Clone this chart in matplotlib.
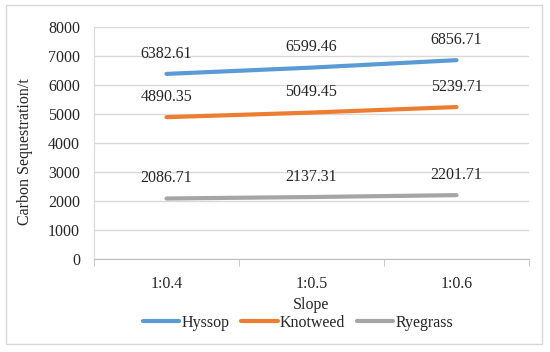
import matplotlib
matplotlib.use("Agg")
import matplotlib.pyplot as plt
from matplotlib.patches import Rectangle

plt.rcParams["font.family"] = ["Liberation Serif", "DejaVu Serif"]

slopes = ["1:0.4", "1:0.5", "1:0.6"]
series_names = ["Hyssop", "Knotweed", "Ryegrass"]
hyssop = [6382.61, 6599.46, 6856.71]
knotweed = [4890.35, 5049.45, 5239.71]
ryegrass = [2086.71, 2137.31, 2201.71]
colors = ["#5B9BD5", "#ED7D31", "#A5A5A5"]

W, H = 550, 352
FS = 11.5
fig = plt.figure(figsize=(W / 100, H / 100), dpi=100)
ax = fig.add_axes([94 / W, 1 - 259 / H, (529 - 94) / W, (259 - 27) / H])

# outer chart border
fig.patches.append(Rectangle((6 / W, 1 - 344 / H), 536 / W, 339 / H,
                             transform=fig.transFigure, fill=False,
                             edgecolor="#D9D9D9", linewidth=1.0))

x = list(range(len(slopes)))
for vals, name, c in zip([hyssop, knotweed, ryegrass], series_names, colors):
    ax.plot(x, vals, color=c, linewidth=3, label=name, solid_capstyle="round")
    for xi, v in zip(x, vals):
        ax.annotate(f"{v:.2f}", (xi, v), xytext=(0, 14.5), textcoords="offset points",
                    ha="center", va="center", fontsize=FS, color="#262626")

ax.set_xlim(-0.5, 2.5)
ax.set_ylim(0, 8000)
ax.set_yticks(range(0, 8001, 1000))
ax.set_xticks(x)
ax.set_xticklabels(slopes)
ax.set_xticks([-0.5, 0.5, 1.5, 2.5], minor=True)
ax.tick_params(axis="x", which="major", length=0, pad=12, labelsize=FS)
ax.tick_params(axis="x", which="minor", length=5, color="#BFBFBF", direction="out")
ax.tick_params(axis="y", length=0, pad=10, labelsize=FS, labelcolor="#262626")
ax.tick_params(axis="x", labelcolor="#262626")
ax.grid(axis="y", color="#D9D9D9", linewidth=1)
ax.set_axisbelow(True)
for s in ["top", "right"]:
    ax.spines[s].set_visible(False)
ax.spines["left"].set_color("#D9D9D9")
ax.spines["bottom"].set_color("#BFBFBF")

ax.set_xlabel("Slope", fontsize=FS, labelpad=4, color="#262626")
ax.set_ylabel("Carbon Sequestration/t", fontsize=FS, color="#262626")
ax.yaxis.set_label_coords(-(94 - 33) / (529 - 94), (259 - 152) / (259 - 27))

fig.legend(loc="center", bbox_to_anchor=(298 / W, 1 - 323 / H), ncol=3, frameon=False,
           fontsize=FS, handlelength=2.3, columnspacing=0.7, handletextpad=0.15,
           labelcolor="#262626")

fig.savefig("out.png", dpi=100)
